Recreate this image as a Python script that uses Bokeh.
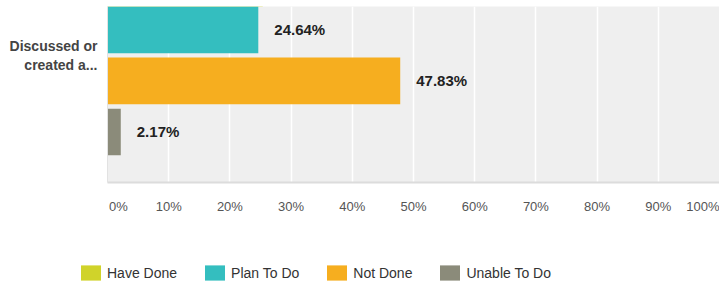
from bokeh.plotting import figure
from bokeh.layouts import column, row
from bokeh.models import (ColumnDataSource, Range1d, FixedTicker, Legend, LegendItem)
from bokeh.embed import file_html
from bokeh.resources import INLINE
from bokeh.core.properties import value

# ---- data ----
category = "Discussed or\ncreated a..."
series = ["Have Done", "Plan To Do", "Not Done", "Unable To Do"]
percents = [25.36, 24.64, 47.83, 2.17]
colors = ["#d0d32a", "#34bebf", "#f6ae1f", "#8b8b7a"]
x_ticks = [0, 10, 20, 30, 40, 50, 60, 70, 80, 90, 100]
x_tick_labels = ["0%", "10%", "20%", "30%", "40%", "50%", "60%", "70%", "80%", "90%", "100%"]

FONT = "Liberation Sans"
NB = "\u00a0"

ypos = [len(series) - 1 - i for i in range(len(series))]

p = figure(
    width=719, height=230,
    min_border_left=107, min_border_right=0, min_border_top=6, min_border_bottom=48,
    x_range=Range1d(0, 100), y_range=Range1d(-0.99, 2.459),
    output_backend="svg", toolbar_location=None,
    background_fill_color="#efefef", border_fill_color="white",
    outline_line_color=None,
)

sources = []
for i, (s, v, c, y) in enumerate(zip(series, percents, colors, ypos)):
    src = ColumnDataSource(dict(y=[y], right=[v], label=[f"{v:.2f}%"]))
    sources.append(src)
    p.hbar(y="y", right="right", left=0, height=0.915, source=src,
           fill_color=c, line_color=None)
    if i > 0:  # the first series' bar lies above the visible area
        p.text(x="right", y="y", text="label", source=src, x_offset=16,
               text_align="left", text_baseline="middle",
               text_font=value(FONT), text_font_style="bold",
               text_font_size="15px", text_color="#222222")

p.xgrid.ticker = FixedTicker(ticks=x_ticks)
p.xgrid.grid_line_color = "white"
p.xgrid.grid_line_width = 1.5
p.ygrid.grid_line_color = None

xa = p.xaxis[0]
xa.ticker = FixedTicker(ticks=x_ticks)
overrides = {t: lab for t, lab in zip(x_ticks, x_tick_labels)}
overrides[x_ticks[0]] = NB * 6 + x_tick_labels[0]
xa.major_label_overrides = overrides
xa.major_tick_line_color = None
xa.major_tick_out = 0
xa.major_tick_in = 0
xa.minor_tick_line_color = None
xa.axis_line_color = "#dcdcdc"
xa.axis_line_width = 2
xa.major_label_standoff = 16
xa.major_label_text_font = FONT
xa.major_label_text_font_size = "13px"
xa.major_label_text_color = "#555555"

ya = p.yaxis[0]
ya.ticker = FixedTicker(ticks=[1.5])
ya.major_label_overrides = {1.5: category}
ya.major_tick_line_color = None
ya.major_tick_out = 0
ya.major_tick_in = 0
ya.minor_tick_line_color = None
ya.axis_line_color = "#e2e2e2"
ya.axis_line_width = 1
ya.major_label_standoff = 10
ya.major_label_text_font = FONT
ya.major_label_text_font_style = "bold"
ya.major_label_text_font_size = "14px"
ya.major_label_text_color = "#444444"

# ---- legend strip (separate figure so the legend can sit left of the plot area) ----
lg = figure(
    width=719, height=56,
    min_border_left=0, min_border_right=0, min_border_top=0, min_border_bottom=0,
    x_range=Range1d(0, 100), y_range=Range1d(50, 51),   # bars fall outside this view
    x_axis_type=None, y_axis_type=None,
    output_backend="svg", toolbar_location=None,
    background_fill_color="white", border_fill_color="white",
    outline_line_color=None,
)
lg.grid.grid_line_color = None
legend_renderers = []
for src, c in zip(sources, colors):
    r = lg.hbar(y="y", right="right", left=0, height=0.915, source=src,
                fill_color=c, line_color=None)
    legend_renderers.append(r)

legend = Legend(
    items=[LegendItem(label=s, renderers=[r]) for s, r in zip(series, legend_renderers)],
    orientation="horizontal", location=(78, 4),
    padding=0, margin=0, spacing=25, label_standoff=4,
    glyph_width=25, glyph_height=19, label_height=19,
    label_text_font=FONT, label_text_font_size="14px", label_text_color="#333333",
    border_line_color=None, background_fill_alpha=0,
)
lg.add_layout(legend, "center")

layout = column(p, row(lg), spacing=0)
open("out.html", "w").write(file_html(layout, INLINE))
